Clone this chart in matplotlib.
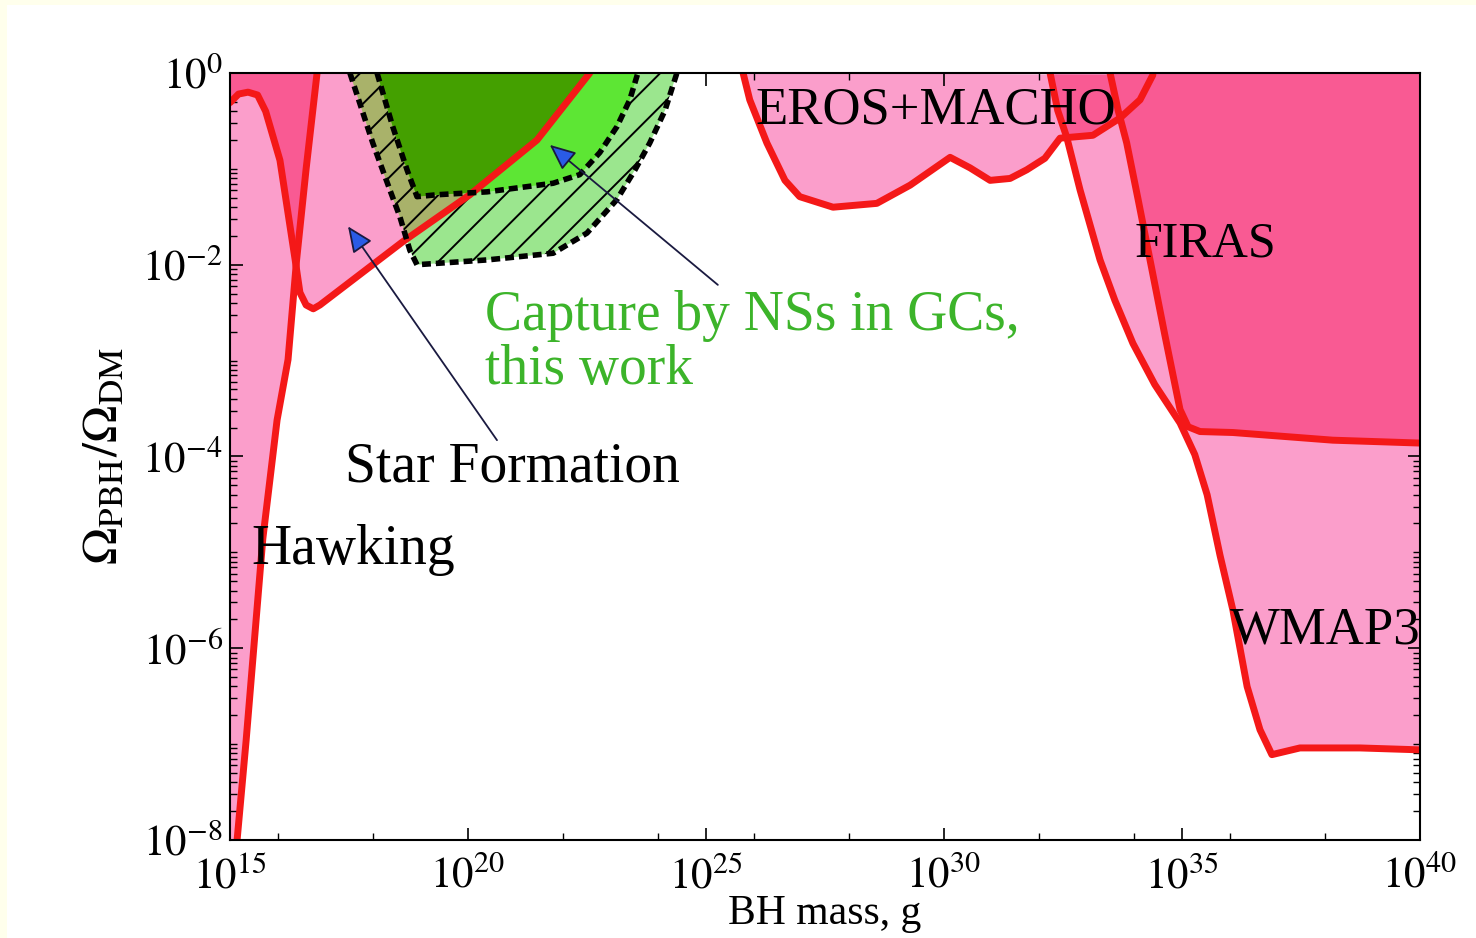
import numpy as np
import matplotlib.pyplot as plt
from matplotlib.patches import Polygon, Rectangle
from matplotlib.ticker import FixedLocator, FuncFormatter, LogLocator, NullFormatter

plt.rcParams['font.family'] = 'serif'
plt.rcParams['font.serif'] = ['Liberation Serif', 'DejaVu Serif']
plt.rcParams['mathtext.fontset'] = 'stix'
plt.rcParams['hatch.linewidth'] = 1.4

# all values are log10(M / g) and log10(Omega_PBH / Omega_DM)
hawk_m = [15.15, 15.34, 15.69, 15.99, 16.22, 16.40, 16.60, 16.83]
hawk_o = [-8.0, -6.96, -4.86, -3.62, -2.99, -1.95, -1.0, 0.0]

# femtolensing + star formation boundary
sf_m = [15.0, 15.18, 15.38, 15.58, 15.75, 16.05, 16.37, 16.47, 16.60, 16.75, 16.89, 18.63, 20.04, 21.45, 22.56]
sf_o = [-0.31, -0.22, -0.20, -0.23, -0.40, -0.91, -1.95, -2.29, -2.42, -2.46, -2.42, -1.76, -1.27, -0.70, 0.0]

eros_m = [25.78, 25.92, 26.28, 26.66, 26.97, 27.67, 28.59, 29.29, 30.13, 30.55, 30.97,
          31.39, 31.74, 32.12, 32.44, 33.13, 33.70, 34.12, 34.39]
eros_o = [0.0, -0.28, -0.73, -1.12, -1.29, -1.40, -1.36, -1.17, -0.88, -0.99, -1.12,
          -1.10, -1.01, -0.89, -0.68, -0.65, -0.47, -0.28, -0.02]

wmap_m = [32.23, 32.39, 32.58, 32.86, 33.28, 33.59, 33.97, 34.43, 34.96, 35.27, 35.53,
          35.80, 36.07, 36.37, 36.64, 36.89, 37.48, 38.74, 40.0]
wmap_o = [0.0, -0.39, -0.67, -1.22, -1.95, -2.37, -2.82, -3.25, -3.65, -3.98, -4.40,
          -5.03, -5.60, -6.40, -6.85, -7.11, -7.04, -7.04, -7.06]

firas_m = [33.49, 33.66, 33.84, 34.08, 34.33, 34.64, 34.96, 35.13, 35.38, 36.07, 38.17, 40.0]
firas_o = [0.0, -0.39, -0.73, -1.32, -1.95, -2.73, -3.51, -3.69, -3.74, -3.75, -3.83, -3.86]

# capture by neutron stars in globular clusters (outer / inner dashed contours)
ns_out_m = [17.52, 18.00, 18.36, 18.57, 18.78, 18.93, 20.40, 21.79, 22.50, 23.13, 23.51, 23.82, 24.14, 24.39]
ns_out_o = [0.0, -0.73, -1.22, -1.50, -1.85, -2.00, -1.95, -1.88, -1.67, -1.32, -1.01, -0.73, -0.39, 0.0]
ns_in_m = [18.09, 18.42, 18.72, 18.93, 19.35, 20.40, 21.79, 22.35, 22.77, 23.13, 23.40, 23.57]
ns_in_o = [0.0, -0.56, -1.01, -1.29, -1.27, -1.24, -1.15, -1.06, -0.83, -0.56, -0.28, 0.0]

LIGHT = '#FB9ECB'
DARK = '#F95A93'
RED = '#F41818'


def pts(lm, lo):
    return np.column_stack([10.0 ** np.asarray(lm, float), 10.0 ** np.asarray(lo, float)])


fig = plt.figure(figsize=(14.76, 9.38), dpi=100, facecolor='#FFFFEC')
fig.add_artist(Rectangle((7 / 1476, 0), 1, 1 - 5 / 938, transform=fig.transFigure,
                         fc='white', ec='none', zorder=-10))
ax = fig.add_axes([0.1558, 0.1045, 0.8062, 0.8177])
ax.set_xscale('log')
ax.set_yscale('log')
ax.set_xlim(1e15, 1e40)
ax.set_ylim(1e-8, 1.0)

hawk_xy = np.vstack([pts(hawk_m, hawk_o), pts([15, 15], [0, -8])])
sf_xy = np.vstack([pts(sf_m, sf_o), pts([15], [0])])
eros_xy = pts(eros_m, eros_o)
wmap_xy = np.vstack([pts(wmap_m, wmap_o), pts([40], [0])])
firas_xy = np.vstack([pts(firas_m, firas_o), pts([40], [0])])
out_xy = pts(ns_out_m, ns_out_o)
in_xy = pts(ns_in_m, ns_in_o)


def region(xy, fc, z, clip=None, **kw):
    p = Polygon(xy, closed=True, fc=fc, lw=0, zorder=z, **kw)
    ax.add_patch(p)
    if clip is not None:
        p.set_clip_path(Polygon(clip, closed=True, transform=ax.transData))
    return p


for xy in (hawk_xy, sf_xy, eros_xy, wmap_xy):
    region(xy, LIGHT, 1, ec='none')
region(hawk_xy, DARK, 2, clip=sf_xy, ec='none')
region(eros_xy, DARK, 2, clip=wmap_xy, ec='none')
region(firas_xy, DARK, 2, ec='none')

# green capture region
region(out_xy, '#9BE68E', 3, ec='black', hatch='/')
region(out_xy, '#A9B26A', 3.1, clip=sf_xy, ec='black', hatch='/')
region(in_xy, '#5DE634', 3.2, ec='none')
region(in_xy, '#44A000', 3.3, clip=sf_xy, ec='none')

# red boundaries
for m, o in ((hawk_m, hawk_o), (sf_m, sf_o), (eros_m, eros_o), (wmap_m, wmap_o), (firas_m, firas_o)):
    ax.plot(10.0 ** np.array(m), 10.0 ** np.array(o), color=RED, lw=5, zorder=4,
            solid_joinstyle='round', solid_capstyle='round')

for m, o in ((ns_out_m, ns_out_o), (ns_in_m, ns_in_o)):
    ax.plot(10.0 ** np.array(m), 10.0 ** np.array(o), color='black', lw=4, zorder=5,
            linestyle=(0, (1.6, 0.9)), dash_capstyle='butt')

# labels
ax.text(10 ** 26.03, 10 ** -0.39, 'EROS+MACHO', fontsize=38, ha='left', va='center', zorder=6)
ax.text(10 ** 34.01, 10 ** -1.79, 'FIRAS', fontsize=36, ha='left', va='center', zorder=6)
ax.text(10 ** 36.0, 10 ** -5.81, 'WMAP3', fontsize=38, ha='left', va='center', zorder=6)
ax.text(10 ** 15.46, 10 ** -4.98, 'Hawking', fontsize=40, ha='left', va='center', zorder=6)
ax.text(10 ** 17.42, 10 ** -4.11, 'Star Formation', fontsize=40, ha='left', va='center', zorder=6)
ax.text(10 ** 20.36, 10 ** -2.82, 'Capture by NSs in GCs,\nthis work', fontsize=40,
        color='#3CB42A', ha='left', va='center', linespacing=1.05, zorder=6)

arrow = dict(arrowstyle='-|>,head_length=0.8,head_width=0.35', mutation_scale=20,
             lw=1.3, fc='#2A5BE6', ec='#1a1a40', shrinkA=0, shrinkB=0)
ax.annotate('', xy=(10 ** 17.48, 10 ** -1.60), xytext=(10 ** 20.61, 10 ** -3.83),
            arrowprops=arrow, zorder=6)
ax.annotate('', xy=(10 ** 21.72, 10 ** -0.75), xytext=(10 ** 25.25, 10 ** -2.21),
            arrowprops=arrow, zorder=6)

# axes, ticks
fmt = FuncFormatter(lambda v, p: r'$10^{%d}$' % round(np.log10(v)))
ax.xaxis.set_major_locator(FixedLocator(10.0 ** np.arange(15, 41, 5)))
ax.xaxis.set_minor_locator(FixedLocator(10.0 ** np.array([16, 18, 22, 24, 26, 28, 32, 34, 36, 38])))
ax.yaxis.set_major_locator(FixedLocator(10.0 ** np.arange(-8, 1, 2)))
ax.yaxis.set_minor_locator(LogLocator(base=10, subs=np.arange(1, 10), numticks=100))
ax.xaxis.set_major_formatter(fmt)
ax.yaxis.set_major_formatter(fmt)
ax.xaxis.set_minor_formatter(NullFormatter())
ax.yaxis.set_minor_formatter(NullFormatter())
ax.tick_params(which='both', direction='in', top=True, right=True, zorder=7)
ax.tick_params(which='major', length=9, width=1.2, labelsize=31)
ax.tick_params(axis='x', which='major', pad=12)
ax.tick_params(axis='y', which='major', pad=5)
ax.tick_params(which='minor', length=5, width=1.0)
for s in ax.spines.values():
    s.set_linewidth(1.5)
    s.set_zorder(8)

ax.set_xlabel('BH mass, g', fontsize=30, labelpad=-2)
ax.set_ylabel(r'$\Omega_{\rm PBH}/\Omega_{\rm DM}$', fontsize=36, labelpad=10)

fig.savefig('out.png', dpi=100, facecolor=fig.get_facecolor())
